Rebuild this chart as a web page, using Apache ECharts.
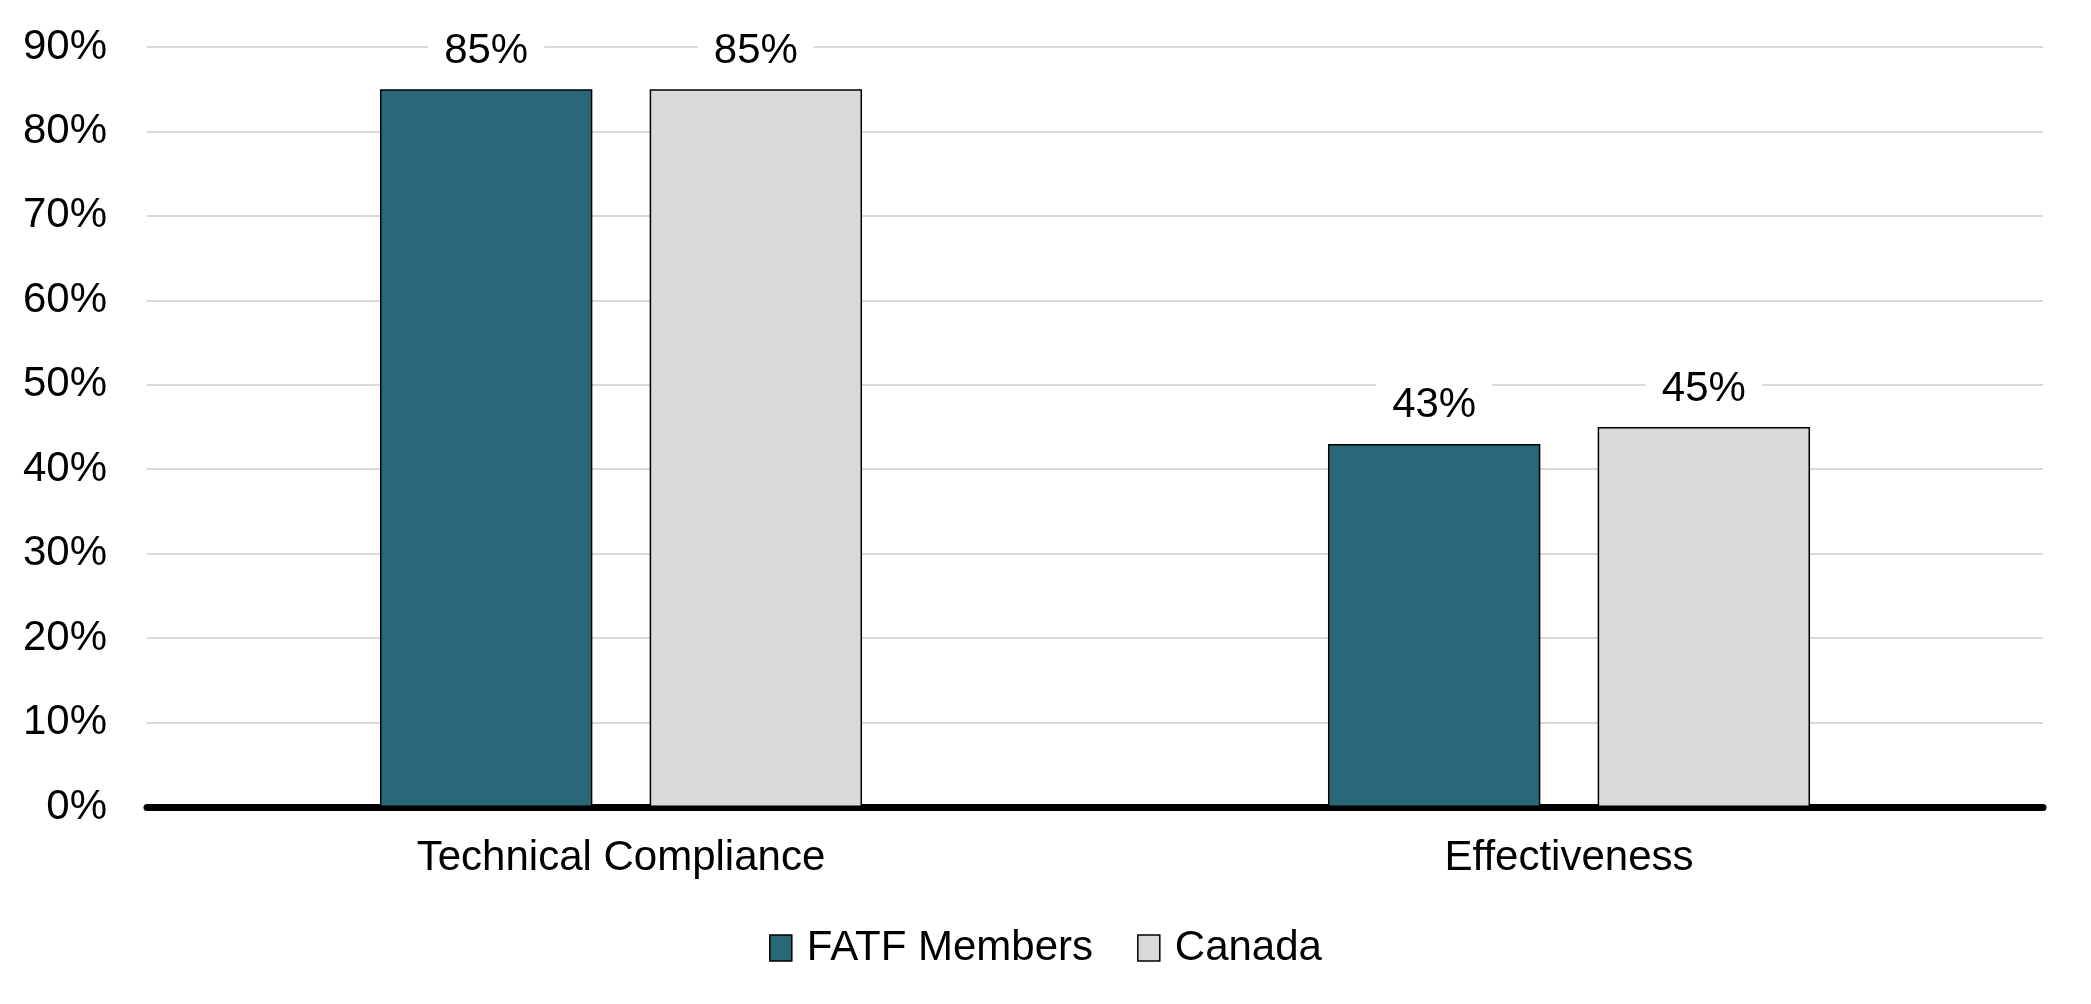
<!DOCTYPE html>
<html>
<head>
<meta charset="utf-8">
<script src="https://cdn.jsdelivr.net/npm/echarts@6/dist/echarts.min.js"></script>
<style>html,body{margin:0;padding:0;background:#fff}#c{width:2091px;height:1004px}</style>
</head>
<body>
<div id="c"></div>
<script>
const categories = ["Technical Compliance", "Effectiveness"];
const seriesNames = ["FATF Members", "Canada"];
const fatfValues = [85, 43];
const canadaValues = [85, 45];
const yTicks = { min: 0, max: 90, interval: 10 };

const FONT = "Arial, 'Liberation Sans', sans-serif";
const chart = echarts.init(document.getElementById('c'), null, { renderer: 'canvas' });
const labelCfg = {
  show: true, position: 'top', distance: 17,
  formatter: '{c}%', color: '#000', fontSize: 42, fontFamily: FONT,
  backgroundColor: '#fff', padding: [2, 16, 0, 16]
};
chart.setOption({
  animation: false,
  textStyle: { fontFamily: FONT },
  grid: { left: 147, right: 48, top: 47, bottom: 197 },
  legend: {
    data: seriesNames, bottom: 30, left: 'center', icon: 'rect',
    padding: [5, 0, 5, 14],
    itemWidth: 22, itemHeight: 26, itemGap: 44,
    itemStyle: { borderColor: '#000', borderWidth: 1.5 },
    textStyle: { fontSize: 42, color: '#000', fontFamily: FONT, padding: [0, 0, 0, 10] }
  },
  xAxis: {
    type: 'category', data: categories,
    axisLine: { lineStyle: { color: '#000', width: 7 } },
    axisTick: { show: false },
    axisLabel: { color: '#000', fontSize: 42, margin: 30, fontFamily: FONT }
  },
  yAxis: {
    type: 'value', min: yTicks.min, max: yTicks.max, interval: yTicks.interval,
    axisLine: { show: false }, axisTick: { show: false },
    axisLabel: { color: '#000', fontSize: 42, margin: 40, formatter: '{value}%', fontFamily: FONT },
    splitLine: { lineStyle: { color: '#d9d9d9', width: 2 } }
  },
  series: [
    { name: seriesNames[0], type: 'bar', data: fatfValues, barWidth: '22.4%', barGap: '27%',
      itemStyle: { color: '#2a6779', borderColor: '#000', borderWidth: 1.5 }, label: labelCfg },
    { name: seriesNames[1], type: 'bar', data: canadaValues, barWidth: '22.4%', barGap: '27%',
      itemStyle: { color: '#d9d9d9', borderColor: '#000', borderWidth: 1.5 }, label: labelCfg }
  ]
});
</script>
</body>
</html>
